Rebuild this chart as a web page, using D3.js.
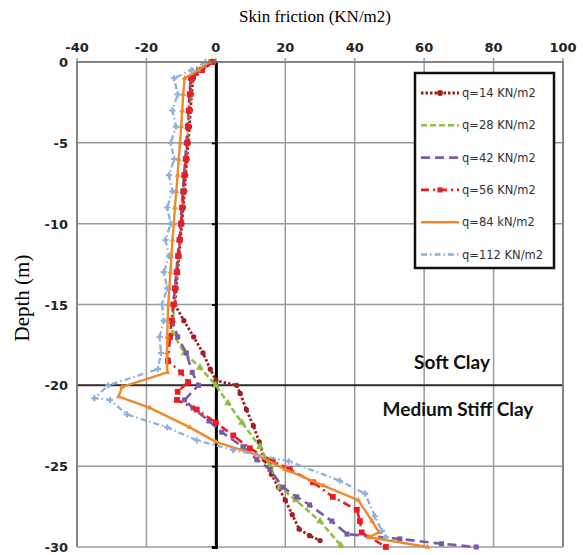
<!DOCTYPE html>
<html>
<head>
<meta charset="utf-8">
<script src="https://cdn.jsdelivr.net/npm/d3@7"></script>
<style>
  body { margin: 0; background: #fff; }
</style>
</head>
<body>
<div id="chart"></div>
<script>
//tick values
var xTicks = [-40, -20, 0, 20, 40, 60, 80, 100];
var yTicks = [0, -5, -10, -15, -20, -25, -30];

//legend labels
var seriesNames = ["q=14 KN/m2", "q=28 KN/m2", "q=42 KN/m2", "q=56 KN/m2", "q=84 kN/m2", "q=112 KN/m2"];

//series as [depth, skin friction]
var q14 = [[0,-1],[-0.5,-4],[-1,-6.5],[-2,-7],[-3,-7.3],[-4,-7.6],[-5,-8],[-6,-8.3],[-7,-8.7],[-8,-9],[-9,-9.4],[-10,-9.8],[-11,-10.2],[-12,-10.6],[-13,-11],[-14,-11.4],[-15,-11.8],[-16,-9.2],[-17,-6.4],[-18,-3.7],[-19,-1.6],[-19.7,0],[-20,6],[-20.5,7],[-21.5,8.8],[-22.5,10.8],[-23.5,12.5],[-24.6,14],[-25.5,16],[-26.3,18],[-27.1,20],[-28,22],[-28.9,24],[-29.3,27],[-29.6,30]];
var q28 = [[0,-1],[-0.5,-4.5],[-1,-7],[-2,-7.3],[-3,-7.6],[-4,-8],[-5,-8.3],[-6,-8.6],[-7,-9],[-8,-9.3],[-9,-9.7],[-10,-10],[-11,-10.4],[-12,-10.8],[-13,-11.2],[-14,-11.6],[-15,-12],[-16,-12.3],[-16.8,-12.4],[-18,-9],[-18.9,-4.6],[-20,0],[-21.1,3.5],[-22.3,7.5],[-23.8,12.7],[-25,15.6],[-26.3,18.4],[-27.1,23],[-28.4,30],[-29.9,36]];
var q42 = [[0,-1.5],[-0.5,-5],[-1,-7.3],[-2,-7.6],[-3,-7.9],[-4,-8.2],[-5,-8.5],[-6,-8.8],[-7,-9.2],[-8,-9.5],[-9,-9.9],[-10,-10.2],[-11,-10.6],[-12,-11],[-13,-11.4],[-14,-11.8],[-15,-12.3],[-16,-12.5],[-17,-11],[-18,-8.5],[-19.2,-6.8],[-20,-5],[-20.9,-9],[-21.4,-6.6],[-22.2,-2],[-22.9,1.7],[-23.8,7.8],[-24.6,11.8],[-25.2,15.6],[-26.3,19.3],[-26.9,23.3],[-27.4,27],[-28.4,33.4],[-29.2,37.8],[-29.5,53],[-29.8,65],[-30,75]];
var q56 = [[0,-1],[-0.5,-4],[-1,-7],[-2,-7.5],[-3,-7.8],[-4,-8],[-5,-8.2],[-6,-8.6],[-7,-9],[-8,-9.3],[-9,-9.6],[-10,-10],[-11,-10.4],[-12,-10.8],[-13,-11.2],[-14,-11.8],[-15,-12.2],[-16,-12.8],[-17,-13.2],[-18.5,-13.8],[-19.2,-10],[-19.8,-8],[-20.4,-11],[-20.9,-11.2],[-21.5,-5.5],[-22.3,0],[-23.1,5],[-23.9,9.8],[-24.7,16.4],[-25.2,21.3],[-26,28],[-26.9,33.7],[-27.7,40.6],[-28.4,41.5],[-29.1,42],[-30,49]];
var q84 = [[0,-2],[-0.5,-5],[-1,-9],[-2,-9.4],[-3,-9.7],[-4,-10],[-5,-10.3],[-6,-10.7],[-7,-11],[-8,-11.4],[-9,-11.8],[-10,-12.1],[-11,-12.5],[-12,-12.8],[-13,-13.1],[-14,-13.4],[-15,-13.7],[-16,-13.9],[-17,-14],[-18,-14.1],[-19.2,-14],[-20.1,-27],[-20.7,-28],[-21.4,-19],[-22.6,-7.5],[-23.5,0],[-24.3,11.8],[-25.2,20],[-26.2,31],[-27.1,41],[-28.4,45],[-29.1,47],[-29.4,44],[-30,61]];
var q112 = [[0,-3],[-0.5,-7],[-1,-12],[-2,-11],[-3,-12.5],[-4,-11.5],[-5,-13],[-6,-12],[-7,-13.5],[-8,-12.5],[-9,-14],[-10,-13],[-11,-14.5],[-12,-13.5],[-13,-15],[-14,-14],[-15,-15.5],[-16,-15],[-17,-16.2],[-18,-15.8],[-19,-16.7],[-20,-31],[-20.8,-35],[-20.9,-30.5],[-21.8,-25.6],[-22.6,-14],[-23.4,-5.5],[-24,5],[-24.7,21],[-25.9,35.7],[-26.7,43],[-28.1,45.8],[-29,47.8],[-29.4,49]];

//styles per series
var seriesList = [
  { data: q14, color: "#9e1f24", dash: "2.5,2", width: 2.8, marker: "circle", size: 22 },
  { data: q28, color: "#8cbf3f", dash: "6,3", width: 2.5, marker: "triangle", size: 26 },
  { data: q42, color: "#7a5ba8", dash: "9,5", width: 2.6, marker: "square", size: 26 },
  { data: q56, color: "#ec1c24", dash: "8,4,2,4", width: 2.6, marker: "square", size: 34 },
  { data: q84, color: "#f0892a", dash: null, width: 2.4, marker: "triangle", size: 14 },
  { data: q112, color: "#8fb0dc", dash: "6,3,1.5,3", width: 2.3, marker: "cross", size: 22 }
];

var width = 583;
var height = 555;

var svg = d3
  .select("#chart")
  .append("svg")
  .attr("width", width)
  .attr("height", height)
  .style("font-family", "'DejaVu Sans', sans-serif");

//scales
var xScale = d3.scaleLinear().domain([-40, 100]).range([77, 563]);
var yScale = d3.scaleLinear().domain([0, -30]).range([62, 547]);

//grid lines
svg
  .selectAll(".vgrid")
  .data(xTicks)
  .enter()
  .append("line")
  .attr("x1", function(d) { return xScale(d); })
  .attr("x2", function(d) { return xScale(d); })
  .attr("y1", yScale(0) - 4)
  .attr("y2", yScale(-30))
  .style("stroke", "#9a9a9a")
  .style("stroke-width", 1.5);

svg
  .selectAll(".hgrid")
  .data(yTicks)
  .enter()
  .append("line")
  .attr("x1", xScale(-40))
  .attr("x2", xScale(100))
  .attr("y1", function(d) { return yScale(d); })
  .attr("y2", function(d) { return yScale(d); })
  .style("stroke", "#9a9a9a")
  .style("stroke-width", 1.5);

//black line at -20 m
svg
  .append("line")
  .attr("x1", xScale(-40))
  .attr("x2", xScale(100))
  .attr("y1", yScale(-20))
  .attr("y2", yScale(-20))
  .style("stroke", "#333")
  .style("stroke-width", 2);

//zero axis with ticks
var zeroAxis = d3.axisLeft(yScale).tickValues(yTicks).tickSize(4).tickFormat("");
svg
  .append("g")
  .attr("transform", "translate(" + xScale(0) + ",0)")
  .call(zeroAxis)
  .call(function(g) {
    g.select(".domain").style("stroke", "#000").style("stroke-width", 3);
    g.selectAll(".tick line").style("stroke", "#000").style("stroke-width", 2);
  });

//tick labels
svg
  .selectAll(".xlabel")
  .data(xTicks)
  .enter()
  .append("text")
  .attr("x", function(d) { return xScale(d); })
  .attr("y", 52)
  .attr("text-anchor", "middle")
  .style("font-size", "13px")
  .style("font-weight", "bold")
  .style("fill", "#222")
  .text(function(d) { return d; });

svg
  .selectAll(".ylabel")
  .data(yTicks)
  .enter()
  .append("text")
  .attr("x", 68)
  .attr("y", function(d) { return yScale(d) + 5; })
  .attr("text-anchor", "end")
  .style("font-size", "13px")
  .style("font-weight", "bold")
  .style("fill", "#222")
  .text(function(d) { return d; });

//axis titles
svg
  .append("text")
  .attr("x", 315)
  .attr("y", 22)
  .attr("text-anchor", "middle")
  .style("font-family", "'Liberation Serif', serif")
  .style("font-size", "17px")
  .text("Skin friction (KN/m2)");

svg
  .append("text")
  .attr("transform", "translate(29,298) rotate(-90)")
  .attr("text-anchor", "middle")
  .style("font-family", "'Liberation Serif', serif")
  .style("font-size", "21px")
  .text("Depth (m)");

//soil layer labels
svg
  .append("text")
  .attr("x", 452)
  .attr("y", 369)
  .attr("text-anchor", "middle")
  .style("font-family", "Lato, sans-serif")
  .style("font-weight", "bold")
  .style("font-size", "19px")
  .style("fill", "#111")
  .text("Soft Clay");

svg
  .append("text")
  .attr("x", 458)
  .attr("y", 416)
  .attr("text-anchor", "middle")
  .style("font-family", "Lato, sans-serif")
  .style("font-weight", "bold")
  .style("font-size", "19px")
  .style("fill", "#111")
  .text("Medium Stiff Clay");

//line generator
var line = d3
  .line()
  .x(function(d) { return xScale(d[1]); })
  .y(function(d) { return yScale(d[0]); });

var markerPath = function(kind, size) {
  if (kind == "circle") return d3.symbol().type(d3.symbolCircle).size(size)();
  if (kind == "triangle") return d3.symbol().type(d3.symbolTriangle).size(size)();
  if (kind == "square") return d3.symbol().type(d3.symbolSquare).size(size)();
  return d3.symbol().type(d3.symbolCross).size(size)();
};

//draw series in order
seriesList.forEach(function(s) {
  svg
    .append("path")
    .datum(s.data)
    .attr("d", line)
    .style("fill", "none")
    .style("stroke", s.color)
    .style("stroke-width", s.width)
    .style("stroke-dasharray", s.dash);

  svg
    .selectAll(null)
    .data(s.data)
    .enter()
    .append("path")
    .attr("transform", function(d) {
      return "translate(" + xScale(d[1]) + "," + yScale(d[0]) + ")";
    })
    .attr("d", markerPath(s.marker, s.size))
    .style("fill", s.color);
});

//legend
var legend = svg.append("g");

legend
  .append("rect")
  .attr("x", 415)
  .attr("y", 73)
  .attr("width", 139)
  .attr("height", 195)
  .style("fill", "#fff")
  .style("stroke", "#111")
  .style("stroke-width", 2.5);

var entries = legend
  .selectAll(".entry")
  .data(seriesList)
  .enter()
  .append("g")
  .attr("transform", function(d, i) {
    return "translate(0," + (93 + i * 32.3) + ")";
  });

entries
  .append("line")
  .attr("x1", 421)
  .attr("x2", 459)
  .style("stroke", function(d) { return d.color; })
  .style("stroke-width", function(d) { return d.width; })
  .style("stroke-dasharray", function(d) { return d.dash; });

entries
  .append("path")
  .attr("transform", "translate(440,0)")
  .attr("d", function(d) { return markerPath(d.marker, 26); })
  .style("fill", function(d) { return d.color; })
  .style("opacity", function(d) { return d.marker == "circle" || d.color == "#ec1c24" ? 1 : 0; });

entries
  .append("text")
  .attr("x", 462)
  .attr("y", 4)
  .style("font-size", "11.5px")
  .style("fill", "#333")
  .text(function(d, i) { return seriesNames[i]; });

//plot frame
svg
  .append("path")
  .attr("d", "M" + xScale(-40) + "," + yScale(-30) + "V" + yScale(0) + "H" + xScale(100) + "V" + yScale(-30))
  .style("fill", "none")
  .style("stroke", "#777")
  .style("stroke-width", 1.5);
</script>
</body>
</html>
